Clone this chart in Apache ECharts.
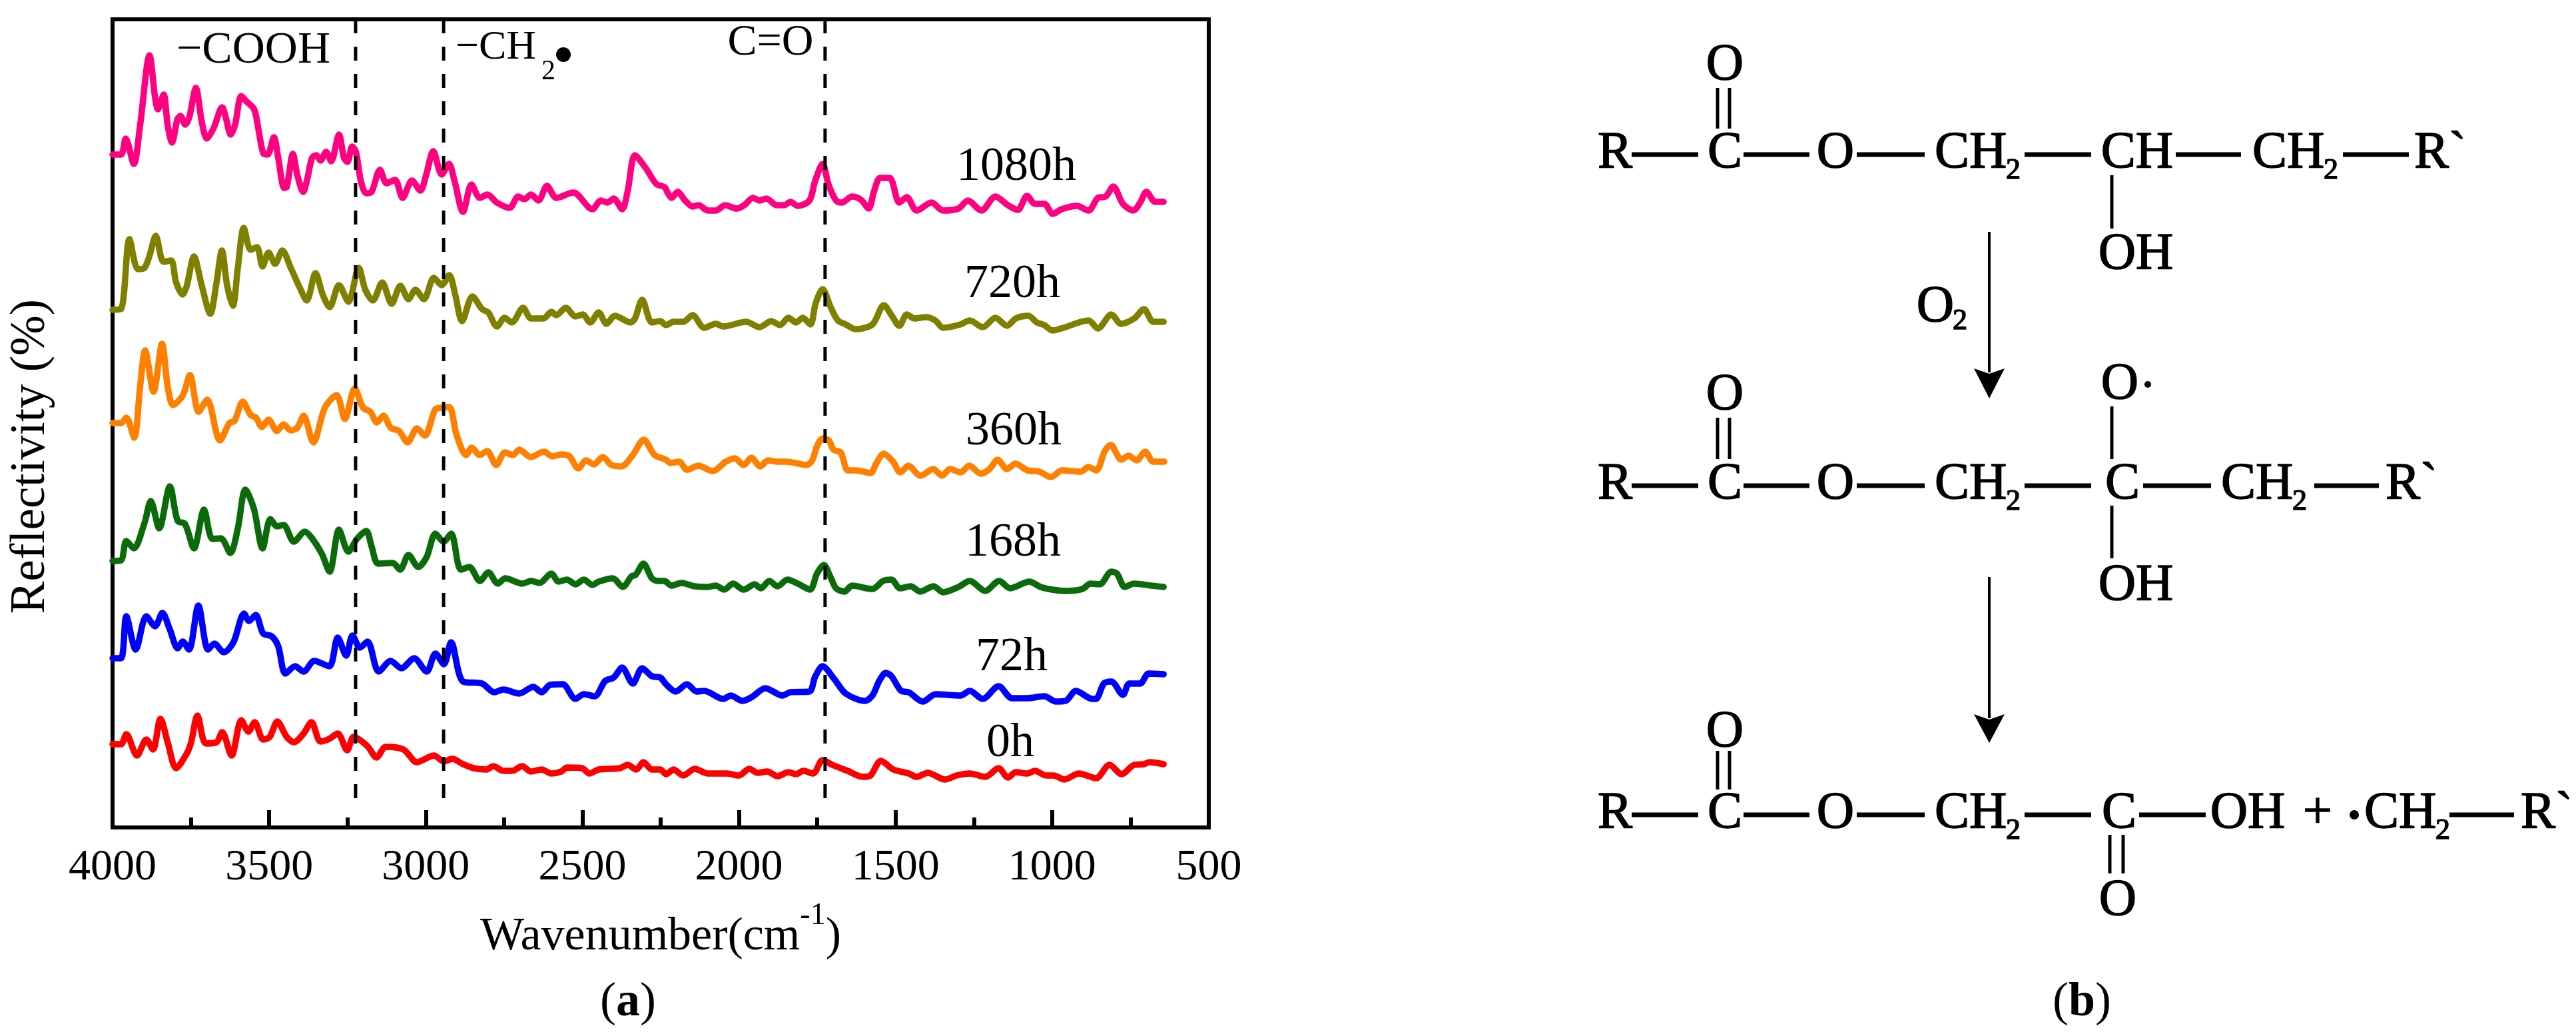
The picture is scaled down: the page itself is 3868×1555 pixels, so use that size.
<!DOCTYPE html>
<html>
<head>
<meta charset="utf-8">
<title>Reflectivity spectra</title>
<script src="https://cdn.jsdelivr.net/npm/echarts@6/dist/echarts.min.js"></script>
<style>
html, body { margin: 0; padding: 0; background: #fff; }
#main { width: 3868px; height: 1555px; }
</style>
</head>
<body>
<div id="main"></div>
<script>
// spectra: [wavenumber, reflectivity with stacking offset, arbitrary units]
var spectrum1080h = [[4000,1010],[3973,1010],[3958,1034],[3932,996],[3912,1054],[3882,1159],[3864,1095],[3855,1078],[3837,1100],[3824,1054],[3810,1028],[3793,1063],[3783,1068],[3768,1055],[3755,1066],[3734,1110],[3715,1059],[3699,1034],[3677,1050],[3650,1081],[3637,1063],[3623,1040],[3609,1054],[3589,1098],[3573,1090],[3548,1078],[3535,1050],[3519,1012],[3505,1010],[3485,1036],[3471,1005],[3452,960],[3444,961],[3424,1011],[3410,979],[3391,954],[3378,974],[3363,1005],[3349,1009],[3336,1001],[3318,1014],[3302,1000],[3277,1040],[3261,1005],[3250,999],[3235,1022],[3223,1014],[3207,970],[3190,952],[3173,954],[3146,987],[3125,967],[3098,972],[3074,945],[3044,971],[3017,956],[2999,979],[2976,1015],[2949,980],[2926,996],[2908,970],[2881,924],[2854,965],[2827,945],[2803,950],[2773,938],[2732,930],[2705,947],[2685,943],[2664,950],[2640,941],[2613,963],[2583,945],[2529,953],[2468,928],[2441,941],[2420,938],[2400,944],[2373,928],[2355,956],[2332,1009],[2298,990],[2264,966],[2237,961],[2227,952],[2215,945],[2196,954],[2172,941],[2148,932],[2129,934],[2099,926],[2074,926],[2044,934],[2007,929],[1983,934],[1955,945],[1934,941],[1913,944],[1879,934],[1855,934],[1836,939],[1812,933],[1775,941],[1757,970],[1733,996],[1714,965],[1690,941],[1672,938],[1639,947],[1610,942],[1586,929],[1568,956],[1549,975],[1519,975],[1488,938],[1464,946],[1433,926],[1385,938],[1348,926],[1299,929],[1269,941],[1226,926],[1181,947],[1141,934],[1110,927],[1080,948],[1055,936],[1025,936],[998,921],[970,928],[921,933],[884,926],[854,945],[829,947],[805,962],[774,936],[741,926],[719,938],[699,954],[671,939],[644,939]];
var spectrum720h = [[4000,777],[3973,778],[3946,883],[3919,838],[3898,840],[3882,858],[3862,888],[3837,849],[3813,851],[3797,818],[3776,800],[3763,813],[3740,857],[3715,813],[3688,771],[3668,818],[3651,866],[3634,813],[3616,783],[3600,840],[3581,900],[3559,867],[3539,871],[3521,842],[3502,863],[3481,846],[3458,866],[3431,840],[3403,811],[3380,791],[3352,832],[3329,800],[3307,781],[3277,814],[3247,789],[3214,840],[3193,807],[3169,791],[3139,818],[3109,786],[3081,813],[3055,793],[3033,807],[3006,793],[2974,825],[2949,814],[2925,829],[2906,800],[2884,760],[2851,797],[2820,778],[2800,773],[2773,752],[2748,765],[2725,758],[2689,780],[2664,764],[2624,764],[2599,774],[2583,769],[2553,780],[2522,767],[2499,770],[2475,758],[2448,773],[2423,756],[2396,768],[2346,758],[2332,764],[2309,792],[2278,758],[2251,760],[2233,754],[2209,759],[2178,759],[2148,769],[2111,750],[2074,756],[2050,752],[1977,759],[1934,751],[1897,760],[1869,754],[1842,765],[1818,758],[1796,765],[1772,755],[1755,787],[1733,808],[1708,782],[1684,761],[1659,755],[1629,748],[1574,755],[1537,784],[1513,769],[1488,753],[1464,770],[1440,764],[1403,766],[1373,761],[1348,750],[1293,755],[1263,761],[1222,751],[1181,765],[1144,753],[1116,764],[1076,768],[1049,758],[1025,754],[998,746],[964,750],[884,761],[854,749],[811,770],[780,756],[738,764],[707,778],[677,759],[644,759]];
var spectrum360h = [[4000,607],[3973,607],[3956,615],[3931,585],[3912,662],[3896,716],[3869,654],[3842,726],[3824,662],[3807,634],[3776,648],[3753,679],[3725,624],[3698,642],[3657,581],[3627,607],[3611,610],[3584,639],[3559,619],[3542,615],[3523,601],[3502,612],[3475,595],[3454,605],[3431,596],[3410,600],[3390,618],[3359,578],[3322,630],[3285,649],[3258,613],[3227,659],[3200,630],[3177,624],[3156,608],[3135,618],[3112,600],[3085,595],[3058,578],[3028,599],[3003,588],[2969,628],[2949,630],[2925,631],[2902,590],[2871,559],[2853,570],[2828,559],[2804,565],[2775,544],[2747,563],[2722,559],[2701,567],[2665,556],[2623,564],[2595,557],[2566,560],[2541,557],[2513,539],[2488,551],[2463,545],[2435,556],[2407,544],[2375,542],[2339,559],[2304,582],[2269,559],[2233,552],[2219,547],[2191,549],[2166,537],[2130,543],[2084,535],[2042,549],[2013,554],[1985,544],[1960,555],[1932,542],[1907,551],[1879,549],[1850,549],[1808,546],[1785,544],[1766,551],[1751,572],[1732,584],[1713,581],[1698,567],[1675,563],[1652,536],[1626,536],[1580,532],[1561,547],[1538,561],[1508,549],[1485,533],[1459,543],[1421,528],[1379,538],[1352,528],[1326,538],[1292,533],[1265,543],[1227,531],[1200,538],[1174,552],[1144,538],[1117,546],[1079,536],[1041,534],[1003,526],[969,536],[908,534],[885,541],[859,536],[832,565],[813,574],[779,552],[756,558],[730,551],[703,564],[677,549],[642,549]];
var spectrum168h = [[4000,400],[3973,401],[3956,430],[3932,419],[3898,457],[3878,490],[3851,449],[3817,512],[3792,460],[3769,456],[3740,419],[3708,477],[3681,433],[3654,434],[3624,412],[3600,449],[3576,507],[3549,479],[3521,419],[3496,463],[3475,452],[3454,454],[3421,429],[3386,444],[3363,434],[3332,411],[3307,384],[3277,447],[3247,414],[3220,433],[3190,445],[3173,422],[3152,396],[3105,397],[3082,387],[3055,409],[3024,391],[2997,406],[2969,441],[2943,429],[2919,441],[2888,387],[2861,391],[2827,370],[2800,383],[2770,366],[2746,374],[2692,366],[2664,370],[2637,367],[2599,381],[2576,369],[2549,372],[2522,365],[2495,372],[2468,364],[2448,369],[2403,374],[2371,361],[2343,377],[2330,379],[2305,396],[2278,374],[2258,370],[2237,370],[2233,369],[2215,363],[2184,367],[2141,362],[2099,361],[2074,363],[2047,357],[2019,366],[1985,357],[1950,365],[1930,359],[1903,370],[1877,362],[1845,372],[1812,366],[1773,357],[1751,381],[1729,394],[1708,376],[1690,359],[1663,354],[1639,363],[1574,358],[1540,370],[1513,372],[1486,359],[1452,362],[1421,354],[1379,362],[1348,353],[1299,361],[1263,370],[1214,355],[1169,370],[1134,359],[1073,369],[1037,361],[1000,357],[954,355],[903,358],[878,366],[848,365],[811,384],[793,381],[768,361],[738,366],[683,363],[644,361]];
var spectrum72h = [[4000,254],[3973,254],[3956,317],[3926,267],[3892,317],[3864,302],[3841,322],[3817,297],[3792,269],[3776,279],[3756,267],[3726,333],[3695,267],[3675,276],[3645,263],[3614,278],[3580,321],[3564,310],[3543,319],[3519,291],[3492,287],[3471,272],[3448,231],[3417,242],[3390,234],[3356,250],[3308,242],[3281,285],[3254,258],[3234,288],[3210,270],[3186,279],[3150,234],[3112,250],[3078,239],[3037,254],[2997,234],[2969,261],[2942,245],[2919,278],[2881,219],[2820,216],[2782,203],[2752,207],[2702,201],[2657,211],[2630,203],[2603,214],[2563,215],[2522,193],[2495,200],[2461,197],[2427,220],[2400,225],[2373,240],[2339,216],[2309,239],[2278,227],[2251,225],[2233,215],[2202,204],[2166,215],[2135,204],[2111,205],[2050,193],[2026,198],[1989,190],[1958,196],[1916,209],[1861,198],[1836,203],[1775,204],[1757,226],[1733,242],[1696,223],[1659,201],[1598,190],[1574,198],[1552,220],[1531,232],[1513,227],[1482,205],[1458,203],[1413,189],[1372,200],[1293,198],[1263,205],[1222,193],[1171,212],[1128,194],[1080,194],[1025,197],[988,189],[957,190],[924,205],[872,193],[860,193],[835,216],[811,219],[774,199],[754,216],[719,216],[692,231],[644,230]];
var spectrum0h = [[4000,125],[3973,125],[3956,140],[3922,108],[3892,132],[3871,117],[3847,163],[3824,128],[3797,89],[3763,111],[3749,128],[3729,168],[3702,126],[3668,128],[3650,143],[3620,108],[3589,161],[3566,144],[3546,158],[3519,132],[3498,136],[3474,159],[3444,136],[3421,128],[3390,141],[3365,158],[3336,129],[3308,133],[3281,141],[3251,116],[3230,136],[3186,122],[3157,105],[3128,121],[3071,117],[3028,98],[2974,108],[2942,99],[2915,103],[2881,95],[2847,89],[2807,87],[2784,92],[2752,85],[2725,85],[2692,92],[2664,84],[2630,87],[2599,81],[2567,84],[2549,90],[2501,89],[2477,81],[2448,87],[2380,89],[2355,94],[2328,87],[2305,98],[2278,87],[2251,87],[2233,80],[2209,87],[2178,78],[2141,88],[2099,81],[2038,81],[2001,78],[1967,88],[1940,82],[1910,84],[1877,77],[1842,83],[1818,80],[1794,85],[1763,81],[1733,101],[1702,94],[1653,85],[1604,76],[1580,78],[1547,100],[1507,87],[1458,81],[1433,76],[1397,82],[1342,72],[1305,78],[1263,81],[1214,76],[1171,89],[1141,75],[1116,83],[1080,81],[1055,85],[1019,78],[995,78],[961,72],[915,81],[860,74],[817,94],[778,80],[738,94],[707,95],[689,98],[644,95]];

var seriesNames = ['0h', '72h', '168h', '360h', '720h', '1080h'];
var seriesColors = ['#ff0000', '#0000ff', '#0b6b0b', '#ff8000', '#808000', '#ff0080'];
var seriesData = [spectrum0h, spectrum72h, spectrum168h, spectrum360h, spectrum720h, spectrum1080h];

// dashed guide lines for the assigned bands
var bandWavenumbers = [3224, 2943, 1725];
var xTicks = [500, 1000, 1500, 2000, 2500, 3000, 3500, 4000];

var FONT = '"Liberation Serif", "Times New Roman", serif';
var graphics = [];
var textStroke = 0;

function txt(str, x, y, size, align, weight) {
    graphics.push({
        type: 'text',
        silent: true,
        style: {
            text: str, x: x, y: y,
            font: (weight || 'normal') + ' ' + size + 'px ' + FONT,
            fill: '#000',
            stroke: textStroke ? '#000' : null,
            lineWidth: textStroke,
            textAlign: align || 'center',
            textVerticalAlign: 'middle'
        }
    });
}
function seg(x1, y1, x2, y2, w) {
    graphics.push({
        type: 'line',
        silent: true,
        shape: {x1: x1, y1: y1, x2: x2, y2: y2},
        style: {stroke: '#000', lineWidth: w}
    });
}
function dot(x, y, r) {
    graphics.push({type: 'circle', silent: true, shape: {cx: x, cy: y, r: r}, style: {fill: '#000'}});
}
// CH2 with its subscript, x is the left edge of the C
function ch2(x, y) {
    txt('CH', x, y, 78, 'left');
    txt('2', x + 107, y + 25, 44, 'left');
}
function arrow(x, y1, y2, yHead) {
    seg(x, y1, x, yHead + 6, 4);
    graphics.push({
        type: 'polygon',
        silent: true,
        shape: {points: [[x - 23, yHead], [x, yHead + 8], [x + 23, yHead], [x, y2]]},
        style: {fill: '#000'}
    });
}
function bond(x1, x2, y) { seg(x1, y, x2, y, 7); }
function dbl(x1, x2, y1, y2) { seg(x1, y1, x1, y2, 5); seg(x2, y1, x2, y2, 5); }

// band labels
txt('\u2212COOH', 265, 76, 68, 'left');
txt('\u2212CH', 684, 72, 62, 'left');
txt('2', 813, 108, 42, 'left');
dot(846, 82, 11);
txt('C=O', 1157, 65, 66);

// time labels over the curves
txt('1080h', 1526, 251, 72);
txt('720h', 1520, 427, 72);
txt('360h', 1522, 648, 72);
txt('168h', 1521, 815, 72);
txt('72h', 1519, 987, 72);
txt('0h', 1517, 1116, 72);

// y axis title, rotated
graphics.push({
    type: 'text', silent: true,
    x: 47, y: 685, rotation: Math.PI / 2,
    style: {
        text: 'Reflectivity (%)', x: 0, y: 0,
        font: '73px ' + FONT, fill: '#000',
        textAlign: 'center', textVerticalAlign: 'middle'
    }
});

// panel captions
function caption(letter, x) {
    graphics.push({
        type: 'text', silent: true,
        style: {
            x: x, y: 1505, textAlign: 'center', textVerticalAlign: 'middle', fill: '#000',
            text: '{n|(}{b|' + letter + '}{n|)}',
            rich: {
                n: {font: '72px ' + FONT},
                b: {font: 'bold 72px ' + FONT}
            }
        }
    });
}
caption('a', 943);
caption('b', 3126);

// scheme (b), heavier text like the pasted drawing
textStroke = 1.5;

function head(y) {
    txt('R', 2425, y, 78);
    bond(2450, 2550, y + 1);
    txt('C', 2590, y, 78);
    bond(2618, 2717, y + 1);
    txt('O', 2756, y, 78);
    bond(2788, 2890, y + 1);
    ch2(2905, y);
    bond(3040, 3140, y + 1);
}
head(231);
txt('O', 2590, 99, 78);
dbl(2579, 2597, 132, 193);
txt('CH', 3209, 231, 78);
seg(3171, 263, 3171, 343, 5);
txt('OH', 3207, 383, 78);
bond(3267, 3365, 232);
ch2(3382, 231);
bond(3518, 3617, 232);
txt('R`', 3625, 231, 78, 'left');

arrow(2987, 348, 598, 553);
txt('O', 2906, 462, 78);
txt('2', 2943, 482, 44);

// second molecule
head(728);
txt('O', 2590, 594, 78);
dbl(2579, 2597, 627, 689);
txt('C', 3187, 728, 78);
txt('O', 3183, 578, 78);
dot(3225, 577, 5);
seg(3171, 610, 3171, 689, 5);
seg(3171, 759, 3171, 838, 5);
txt('OH', 3207, 880, 78);
bond(3218, 3320, 729);
ch2(3335, 728);
bond(3475, 3572, 729);
txt('R`', 3582, 728, 78, 'left');

arrow(2987, 866, 1115, 1072);

// products
head(1222);
txt('O', 2590, 1100, 78);
dbl(2579, 2597, 1127, 1185);
txt('C', 3182, 1222, 78);
dbl(3168, 3188, 1253, 1311);
txt('O', 3180, 1353, 78);
bond(3212, 3312, 1223);
txt('OH', 3375, 1222, 78);
txt('+', 3480, 1222, 78);
dot(3535, 1223, 7);
ch2(3550, 1222);
bond(3678, 3775, 1223);
txt('R`', 3785, 1222, 78, 'left');

// build the series
var series = [];
for (var i = 0; i < seriesNames.length; i++) {
    series.push({
        name: seriesNames[i],
        type: 'line',
        data: seriesData[i],
        symbol: 'none',
        smooth: 0.3,
        animation: false,
        lineStyle: {color: seriesColors[i], width: 9.5, cap: 'round', join: 'round'}
    });
}
for (var j = 0; j < bandWavenumbers.length; j++) {
    series.push({
        name: 'band' + j,
        type: 'line',
        data: [[bandWavenumbers[j], 1213], [bandWavenumbers[j], 40]],
        symbol: 'none',
        animation: false,
        lineStyle: {color: '#000', width: 5, type: [21, 20]}
    });
}

var myChart = echarts.init(document.getElementById('main'));
var option = {
    backgroundColor: '#fff',
    animation: false,
    grid: {
        left: 169, right: 2053, top: 29, bottom: 313,
        show: true, borderColor: '#000', borderWidth: 6
    },
    xAxis: {
        type: 'value',
        inverse: true,
        min: xTicks[0],
        max: xTicks[xTicks.length - 1],
        interval: xTicks[1] - xTicks[0],
        splitLine: {show: false},
        axisLine: {show: true, onZero: false, lineStyle: {color: '#000', width: 6}},
        axisTick: {show: true, inside: true, length: 26, lineStyle: {color: '#000', width: 6}},
        minorTick: {show: true, splitNumber: 2, length: 15, lineStyle: {color: '#000', width: 6}},
        axisLabel: {
            margin: 28, color: '#000',
            fontFamily: FONT, fontSize: 66,
            formatter: function (v) { return String(v); }
        },
        name: '{m|Wavenumber(cm}{s|-1}{m|)}',
        nameLocation: 'middle',
        nameGap: 110,
        nameTextStyle: {
            color: '#000',
            rich: {
                m: {fontFamily: FONT, fontSize: 70, color: '#000', verticalAlign: 'bottom'},
                s: {fontFamily: FONT, fontSize: 46, color: '#000', verticalAlign: 'top', padding: [0, 0, 44, 0]}
            }
        }
    },
    yAxis: {
        type: 'value',
        min: 0,
        max: 1213,
        splitLine: {show: false},
        axisTick: {show: false},
        axisLabel: {show: false},
        axisLine: {show: true, lineStyle: {color: '#000', width: 6}}
    },
    series: series,
    graphic: {elements: graphics}
};
myChart.setOption(option);
</script>
</body>
</html>
